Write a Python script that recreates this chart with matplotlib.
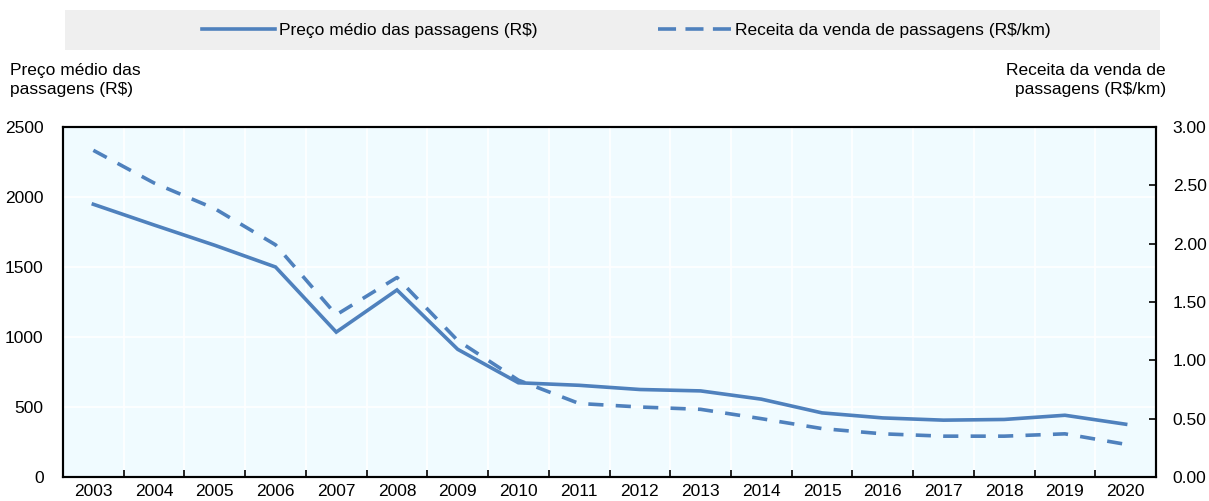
import matplotlib
matplotlib.use("Agg")
import matplotlib.pyplot as plt
import numpy as np
from matplotlib.lines import Line2D
from matplotlib.patches import Rectangle
from matplotlib.ticker import FormatStrFormatter

plt.rcParams['font.family'] = ['Liberation Sans', 'DejaVu Sans']

years = ["2003", "2004", "2005", "2006", "2007", "2008", "2009", "2010", "2011",
         "2012", "2013", "2014", "2015", "2016", "2017", "2018", "2019", "2020"]
preco_medio = [1948, 1800, 1655, 1500, 1035, 1336, 912, 673, 655,
               625, 615, 556, 458, 422, 406, 411, 441, 377]
receita_km = [2.80, 2.52, 2.30, 1.99, 1.39, 1.71, 1.17, 0.83, 0.63,
              0.60, 0.58, 0.50, 0.415, 0.37, 0.35, 0.35, 0.37, 0.28]

left_ticks = [0, 500, 1000, 1500, 2000, 2500]
right_ticks = [0.0, 0.5, 1.0, 1.5, 2.0, 2.5, 3.0]

label_left = "Preço médio das passagens (R$)"
label_right = "Receita da venda de passagens (R$/km)"
title_left = "Preço médio das\npassagens (R$)"
title_right = "Receita da venda de\npassagens (R$/km)"

color = "#4f81bd"
bg = "#f0fbff"
fs = 12.5

fig = plt.figure(figsize=(12.09, 5.01), dpi=100)
ax = fig.add_axes([63/1209, 1-477/501, (1156-63)/1209, (477-127)/501])
ax.set_facecolor(bg)
x = np.arange(len(years))

ax.plot(x, preco_medio, color=color, lw=2.6, solid_joinstyle='miter', zorder=3)
ax.set_xlim(-0.5, len(years) - 0.5)
ax.set_ylim(0, 2500)
ax.set_yticks(left_ticks)
ax.set_xticks(x)
ax.set_xticklabels(years)
ax.set_xticks(x[:-1] + 0.5, minor=True)
ax.tick_params(axis='x', which='major', length=0, pad=5, labelsize=fs)
ax.tick_params(axis='x', which='minor', length=5, direction='in', width=1.2)
ax.tick_params(axis='y', length=0, pad=14, labelsize=fs)
ax.grid(False)
for v in left_ticks[1:-1]:
    ax.axhline(v, color='white', lw=1.2, zorder=1)
for v in x[:-1] + 0.5:
    ax.axvline(v, color='white', lw=1.2, zorder=1)
for s in ax.spines.values():
    s.set_linewidth(1.5)
    s.set_color('black')

ax2 = ax.twinx()
ax2.plot(x, receita_km, color=color, lw=2.6, ls=(0, (4.2, 3.4)), zorder=3)
ax2.set_ylim(0, 3)
ax2.set_yticks(right_ticks)
ax2.yaxis.set_major_formatter(FormatStrFormatter('%.2f'))
ax2.tick_params(axis='y', length=5, direction='in', width=1.2, pad=12, labelsize=fs)
for s in ax2.spines.values():
    s.set_linewidth(1.5)

fig.text(10/1209, 1-63/501, title_left, ha='left', va='top', fontsize=fs, linespacing=1.35)
fig.text(1166/1209, 1-63/501, title_right, ha='right', va='top', fontsize=fs, linespacing=1.35)

# legend band
fig.patches.append(Rectangle((65/1209, 1-50/501), (1160-65)/1209, 40/501,
                             transform=fig.transFigure, facecolor='#efefef',
                             edgecolor='none', zorder=-1))
h1 = Line2D([], [], color=color, lw=2.6)
h2 = Line2D([], [], color=color, lw=2.6, ls=(0, (5, 2.6)))
common = dict(frameon=False, fontsize=fs, handlelength=4.2, handletextpad=0.25,
              borderpad=0, borderaxespad=0, loc='center left')
leg1 = fig.legend([h1], [label_left], bbox_to_anchor=(202/1209, 1-30/501), **common)
leg2 = fig.legend([h2], [label_right], bbox_to_anchor=(658/1209, 1-30/501), **common)

fig.savefig("out.png", dpi=100)
